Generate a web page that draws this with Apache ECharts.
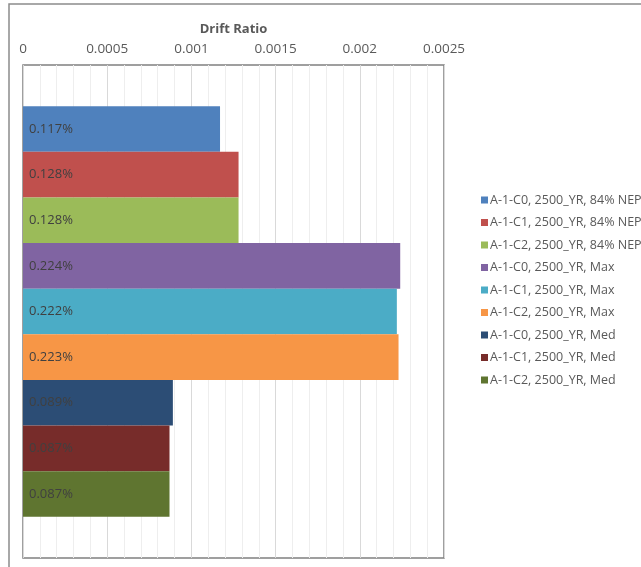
<!DOCTYPE html>
<html>
<head>
<meta charset="utf-8">
<script src="https://cdn.jsdelivr.net/npm/echarts@6/dist/echarts.min.js"></script>
<style>
html,body{margin:0;padding:0;background:#fff;}
#chart{width:641px;height:567px;}
</style>
</head>
<body>
<div id="chart"></div>
<script>
var seriesNames = [
  'A-1-C0, 2500_YR, 84% NEP',
  'A-1-C1, 2500_YR, 84% NEP',
  'A-1-C2, 2500_YR, 84% NEP',
  'A-1-C0, 2500_YR, Max',
  'A-1-C1, 2500_YR, Max',
  'A-1-C2, 2500_YR, Max',
  'A-1-C0, 2500_YR, Med',
  'A-1-C1, 2500_YR, Med',
  'A-1-C2, 2500_YR, Med'
];
var driftValues = [0.00117, 0.00128, 0.00128, 0.00224, 0.00222, 0.00223, 0.00089, 0.00087, 0.00087];
var colors = ['#4F81BD', '#C0504D', '#9BBB59', '#8064A2', '#4BACC6', '#F79646', '#2C4D75', '#772C2A', '#5F7530'];
var categories = [''];
var axisTitle = 'Drift Ratio';

var chart = echarts.init(document.getElementById('chart'));
var series = seriesNames.map(function (name, i) {
  return {
    name: name,
    type: 'bar',
    data: [driftValues[i]],
    barGap: '0%',
    barCategoryGap: '16.7%',
    itemStyle: { color: colors[i] },
    label: {
      show: true,
      position: 'insideLeft',
      distance: 6,
      color: '#404040',
      fontSize: 13,
      fontFamily: 'Open Sans',
      formatter: function (p) { return (p.value * 100).toFixed(3) + '%'; }
    }
  };
});

chart.setOption({
  animation: false,
  color: colors,
  graphic: [{
    type: 'rect',
    shape: { x: 9, y: 4, width: 700, height: 700 },
    style: { fill: 'none', stroke: '#8c8c8c', lineWidth: 1.5 },
    silent: true
  }],
  grid: {
    left: 23, top: 65, width: 421, height: 493,
    show: true, borderColor: '#808080', borderWidth: 1.5, backgroundColor: '#fff'
  },
  legend: {
    orient: 'vertical',
    left: 476, top: 188,
    icon: 'rect',
    itemWidth: 7, itemHeight: 7,
    itemGap: 8.5,
    textStyle: { color: '#595959', fontSize: 12.5, fontFamily: 'Open Sans', lineHeight: 14, padding: [0, 0, 0, -3] },
    data: seriesNames
  },
  xAxis: {
    type: 'value',
    position: 'top',
    min: 0, max: 0.0025, interval: 0.0005,
    name: axisTitle,
    nameLocation: 'middle',
    nameGap: 29,
    nameTextStyle: { color: '#595959', fontWeight: 'bold', fontSize: 13, fontFamily: 'Open Sans' },
    axisLine: { show: false },
    axisTick: { show: false },
    axisLabel: {
      color: '#595959', fontSize: 13.5, fontFamily: 'Open Sans', margin: 9,
      formatter: function (v) { return v === 0 ? '0' : String(parseFloat(v.toPrecision(6))); }
    },
    splitLine: { show: true, lineStyle: { color: '#d9d9d9', width: 1 } },
    minorTick: { show: false, splitNumber: 5 },
    minorSplitLine: { show: true, lineStyle: { color: '#eeeeee', width: 1 } }
  },
  yAxis: {
    type: 'category',
    data: categories,
    inverse: true,
    axisLine: { show: false },
    axisTick: { show: false },
    axisLabel: { show: false }
  },
  series: series
});
</script>
</body>
</html>
